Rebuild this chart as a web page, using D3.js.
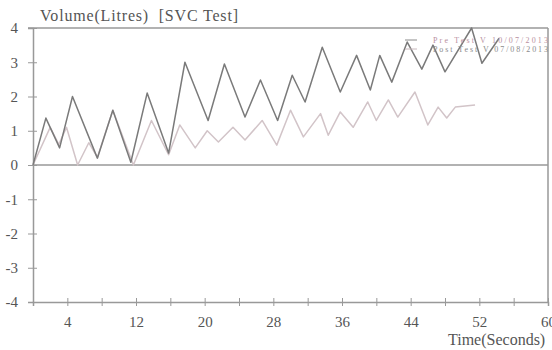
<!DOCTYPE html>
<html>
<head>
<meta charset="utf-8">
<script src="https://cdn.jsdelivr.net/npm/d3@7"></script>
<style>
  body { margin:0; background:#fff; }
  text { font-family:"Liberation Serif", "DejaVu Serif", serif; fill:#555; }
</style>
</head>
<body>
<div id="chart"></div>
<script>
// time (s) and volume (L)
var test1_time = [0,1.5,3.1,4.6,7.5,9.3,11.4,13.3,15.8,17.7,20.4,22.3,24.7,26.5,28.5,30.2,31.7,33.7,35.8,37.7,39.3,40.4,41.8,43.6,45.3,46.6,48.0,51.1,52.3,54.3];
var test1_vol  = [0,1.37,0.5,2.0,0.2,1.6,0.08,2.1,0.35,3.0,1.3,2.95,1.4,2.48,1.3,2.62,1.84,3.44,2.13,3.2,2.19,3.2,2.42,3.59,2.8,3.5,2.72,4.0,2.97,3.7];

var test2_time = [0,2.0,3.0,3.9,5.2,6.5,7.5,9.3,11.7,13.8,15.8,17.1,18.9,20.3,21.6,23.3,24.7,26.7,28.4,30.0,31.5,33.5,34.4,35.8,37.3,39.0,40.0,41.4,42.5,44.5,46.0,47.2,48.2,49.2,51.5];
var test2_vol  = [0,1.1,0.6,1.1,0,0.65,0.22,1.6,0,1.3,0.3,1.17,0.5,1.0,0.67,1.1,0.73,1.3,0.58,1.6,0.82,1.5,0.87,1.55,1.1,1.84,1.3,1.9,1.4,2.13,1.17,1.69,1.37,1.69,1.75];

var x_ticks = [4,8,12,16,20,24,28,32,36,40,44,48,52,56,60];
var x_labels = [4,12,20,28,36,44,52,60];
var y_ticks = [-4,-3,-2,-1,0,1,2,3,4];

var legend_names = ["Pre Test  V  10/07/2013", "Post Test  V  07/08/2013"];

var width = 552, height = 350;
var svg = d3.select("#chart").append("svg")
  .attr("width", width)
  .attr("height", height);

var x_scale = d3.scaleLinear().domain([0,60]).range([33,548]);
var y_scale = d3.scaleLinear().domain([-4,4]).range([302,28]);

// frame: top and right border
svg.append("line")
  .attr("x1", 28).attr("x2", x_scale(60))
  .attr("y1", y_scale(4)).attr("y2", y_scale(4))
  .style("stroke", "#999").style("stroke-width", 1.5);
svg.append("line")
  .attr("x1", x_scale(60)).attr("x2", x_scale(60))
  .attr("y1", y_scale(4)).attr("y2", y_scale(-4))
  .style("stroke", "#999").style("stroke-width", 1.5);

// zero line
svg.append("line")
  .attr("x1", x_scale(0)).attr("x2", x_scale(60))
  .attr("y1", y_scale(0)).attr("y2", y_scale(0))
  .style("stroke", "#999").style("stroke-width", 1.5);

// y axis
var y_axis = svg.append("g")
  .attr("class", "axis axis--y")
  .attr("transform", "translate(" + x_scale(0) + ",0)")
  .call(d3.axisLeft(y_scale).tickValues(y_ticks).tickSize(5).tickPadding(10).tickFormat(d => String(d)));
y_axis.selectAll(".tick line").attr("x2", 4).attr("x1", -5);

// x axis
var x_axis = svg.append("g")
  .attr("class", "axis axis--x")
  .attr("transform", "translate(0," + y_scale(-4) + ")")
  .call(d3.axisBottom(x_scale).tickValues(x_ticks).tickSize(4).tickPadding(10)
    .tickFormat(d => x_labels.indexOf(d) >= 0 ? d : ""));
x_axis.selectAll(".tick line").attr("y1", -4).attr("y2", 4);

svg.selectAll(".axis path").style("stroke", "#999").style("stroke-width", 1.5);
svg.selectAll(".axis .tick line").style("stroke", "#999");
svg.selectAll(".axis text")
  .style("font-family", "Liberation Serif, serif")
  .style("font-size", "15px")
  .style("fill", "#555");

// titles
svg.append("text")
  .attr("x", 40).attr("y", 21)
  .style("font-size", "16px")
  .style("white-space", "pre")
  .attr("textLength", 198)
  .text("Volume(Litres)  [SVC Test]");

svg.append("text")
  .attr("x", 448).attr("y", 345)
  .style("font-size", "16px")
  .text("Time(Seconds)");

// series
var line_generator = d3.line()
  .x(d => x_scale(d[0]))
  .y(d => y_scale(d[1]));

var series = [
  { points: d3.zip(test2_time, test2_vol), color: "#d2c4c8" },
  { points: d3.zip(test1_time, test1_vol), color: "#7a7a7a" }
];

svg.selectAll(".series")
  .data(series).enter()
  .append("path")
  .attr("class", "series")
  .attr("d", d => line_generator(d.points))
  .style("fill", "none")
  .style("stroke", d => d.color)
  .style("stroke-width", 1.5)
  .style("stroke-linejoin", "round");

// legend
var legends = svg.selectAll(".legend")
  .data(legend_names).enter()
  .append("g")
  .attr("class", "legend")
  .attr("transform", (d, i) => "translate(405," + (40 + i * 9) + ")");

legends.append("line")
  .attr("x1", 0).attr("x2", 12)
  .style("stroke", (d, i) => i == 0 ? "#8a8a8a" : "#c8b8bc")
  .style("stroke-width", 1);

legends.append("text")
  .attr("x", 28).attr("y", 3)
  .attr("textLength", 115)
  .style("font-size", "8px")
  .style("fill", (d, i) => i == 0 ? "#b890a0" : "#8a8a8a")
  .text(d => d);
</script>
</body>
</html>
